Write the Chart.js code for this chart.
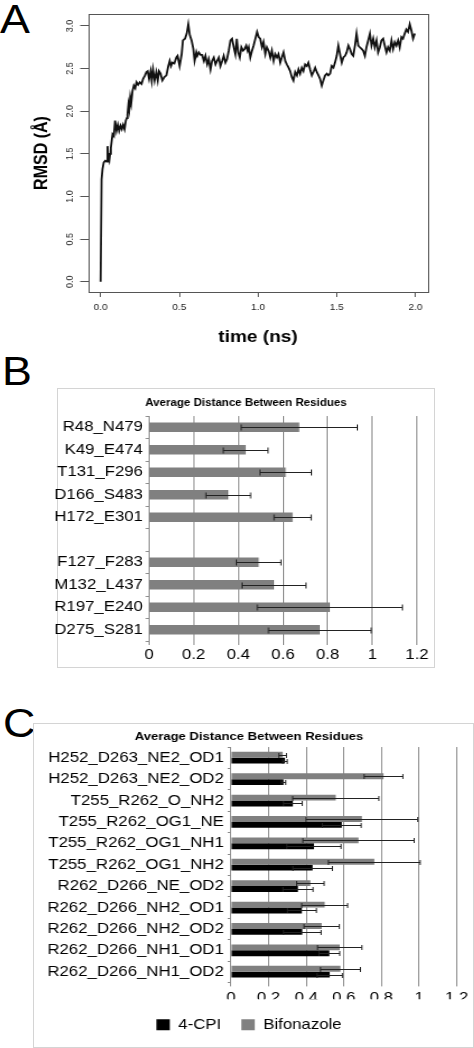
<!DOCTYPE html>
<html><head><meta charset="utf-8">
<script src="https://cdn.jsdelivr.net/npm/chart.js@4/dist/chart.umd.min.js"></script>
<style>
html,body{margin:0;padding:0;background:#fff;width:474px;height:1048px;overflow:hidden;position:relative;font-family:"Liberation Sans",Arial,sans-serif;}
.letter{position:absolute;font-size:40px;line-height:40px;color:#000;transform-origin:0 0;transform:scaleX(1.12);}
.frame{position:absolute;border:1px solid #d4d4d4;box-sizing:border-box;}
canvas{position:absolute;transform-origin:0 0;}
</style></head><body>
<div class="letter" style="left:0;top:-1px">A</div>
<div class="letter" style="left:2px;top:351px">B</div>
<div class="letter" style="left:3px;top:703px">C</div>
<div class="frame" style="left:57px;top:388px;width:378px;height:280px"></div>
<div class="frame" style="left:33px;top:723px;width:441px;height:325px"></div>
<script>
// ---------- Panel A data: RMSD vs time ----------
const rmsdTime = [0.000,0.006,0.012,0.020,0.030,0.038,0.044,0.050,0.055,0.060,0.065,0.071,0.076,0.084,0.092,0.101,0.110,0.118,0.127,0.135,0.143,0.152,0.160,0.166,0.171,0.177,0.182,0.188,0.194,0.203,0.211,0.220,0.228,0.238,0.249,0.260,0.270,0.282,0.291,0.299,0.308,0.318,0.325,0.333,0.343,0.354,0.363,0.371,0.381,0.392,0.405,0.418,0.430,0.439,0.447,0.456,0.468,0.481,0.489,0.502,0.515,0.523,0.536,0.547,0.557,0.567,0.578,0.589,0.597,
0.608,0.614,0.624,0.635,0.645,0.656,0.666,0.677,0.687,0.698,0.708,0.719,0.730,0.740,0.751,0.761,0.772,0.782,0.793,0.803,0.814,0.825,0.835,0.846,0.856,0.865,0.874,0.884,0.894,0.905,0.915,0.925,0.934,0.941,0.951,0.962,0.972,0.983,0.994,1.004,1.014,1.025,1.035,1.046,1.056,1.067,1.078,1.088,1.099,1.109,1.120,1.130,1.141,1.151,1.162,1.173,1.183,1.194,1.204,1.215,1.225,1.236,1.247,1.257,1.267,1.278,1.288,1.299,1.310,1.320,
1.331,1.342,1.352,1.363,1.373,1.384,1.394,1.405,1.415,1.426,1.437,1.447,1.458,1.468,1.479,1.489,1.500,1.510,1.521,1.532,1.542,1.553,1.563,1.574,1.584,1.595,1.605,1.616,1.626,1.637,1.647,1.658,1.668,1.679,1.689,1.700,1.711,1.721,1.732,1.742,1.753,1.763,1.774,1.784,1.795,1.805,1.816,1.826,1.837,1.848,1.858,1.869,1.879,1.890,1.900,1.911,1.921,1.932,1.942,1.953,1.964,1.974,1.985,1.996];
const rmsdValue = [0.00,1.20,1.32,1.40,1.42,1.41,1.59,1.45,1.42,1.50,1.57,1.66,1.73,1.71,1.89,1.77,1.84,1.77,1.83,1.79,1.84,1.79,1.89,1.92,1.96,2.08,2.02,2.16,2.09,2.24,2.30,2.27,2.34,2.31,2.34,2.32,2.38,2.42,2.46,2.47,2.38,2.47,2.36,2.49,2.36,2.46,2.36,2.47,2.44,2.36,2.40,2.42,2.53,2.59,2.53,2.57,2.56,2.63,2.65,2.53,2.67,2.83,2.85,2.91,3.02,2.89,2.83,2.73,2.59,
2.69,2.65,2.69,2.66,2.66,2.59,2.65,2.55,2.61,2.49,2.59,2.63,2.55,2.59,2.63,2.53,2.59,2.65,2.57,2.61,2.71,2.83,2.85,2.75,2.67,2.85,2.69,2.63,2.75,2.71,2.73,2.77,2.71,2.75,2.63,2.71,2.77,2.85,2.93,2.87,2.85,2.75,2.81,2.67,2.75,2.71,2.63,2.71,2.59,2.67,2.63,2.67,2.57,2.63,2.69,2.59,2.55,2.51,2.47,2.40,2.36,2.46,2.42,2.49,2.44,2.51,2.47,2.55,2.53,2.57,
2.49,2.42,2.46,2.51,2.46,2.42,2.38,2.30,2.36,2.42,2.44,2.42,2.44,2.53,2.51,2.57,2.65,2.77,2.67,2.57,2.63,2.65,2.69,2.77,2.73,2.67,2.65,2.77,2.91,2.77,2.75,2.73,2.71,2.65,2.75,2.83,2.91,2.77,2.85,2.75,2.83,2.69,2.75,2.83,2.85,2.77,2.69,2.75,2.71,2.83,2.73,2.81,2.77,2.83,2.75,2.87,2.85,2.91,2.96,2.93,3.02,2.95,2.85,2.91];
const aXTicks = [0, 0.5, 1, 1.5, 2];

// ---------- Panel B data ----------
const bLabels = ['R48_N479','K49_E474','T131_F296','D166_S483','H172_E301','','F127_F283','M132_L437','R197_E240','D275_S281'];
const bValues = [0.673,0.433,0.612,0.355,0.643,null,0.491,0.560,0.810,0.765];
const bErrors = [0.260,0.100,0.115,0.100,0.083,null,0.100,0.143,0.325,0.230];

// ---------- Panel C data ----------
const cLabels = ['H252_D263_NE2_OD1','H252_D263_NE2_OD2','T255_R262_O_NH2','T255_R262_OG1_NE','T255_R262_OG1_NH1','T255_R262_OG1_NH2','R262_D266_NE_OD2','R262_D266_NH2_OD1','R262_D266_NH2_OD2','R262_D266_NH1_OD1','R262_D266_NH1_OD2'];
const cpiValues = [0.287,0.279,0.329,0.589,0.441,0.434,0.356,0.377,0.379,0.523,0.525];
const cpiErrors = [0.012,0.012,0.050,0.103,0.144,0.105,0.080,0.077,0.100,0.055,0.067];
const bifValues = [0.275,0.811,0.557,0.696,0.678,0.762,0.422,0.498,0.482,0.578,0.582];
const bifErrors = [0.020,0.103,0.229,0.297,0.296,0.244,0.073,0.122,0.094,0.118,0.106];
const distTicks = [0, 0.2, 0.4, 0.6, 0.8, 1, 1.2];

// ---------- helpers ----------
const FAM = "'Liberation Sans', Arial, sans-serif";
Chart.defaults.font.family = FAM;
Chart.defaults.color = '#000';
const S = 1.12;
function makeCanvas(cssLeft, cssTop, cssWidth, cssHeight) {
  const cw = Math.round(cssWidth / S);
  const sx = cssWidth / cw;
  const c = document.createElement('canvas');
  c.width = cw; c.height = cssHeight;
  c.style.left = cssLeft + 'px'; c.style.top = cssTop + 'px';
  c.style.width = cw + 'px'; c.style.height = cssHeight + 'px';
  c.style.transform = 'scaleX(' + sx + ')';
  document.body.appendChild(c);
  return {c, cw, h: cssHeight, toX: x => (x - cssLeft) / sx};
}
const fmtDist = v => String(Math.round(v * 10) / 10);
const boxPlugin = {
  id: 'rbox',
  afterDraw(chart, args, opts) {
    const {left, top, right, bottom} = chart.chartArea;
    const ctx = chart.ctx;
    ctx.save(); ctx.strokeStyle = opts.color || '#555'; ctx.lineWidth = 1;
    ctx.strokeRect(Math.round(left) + 0.5, Math.round(top) + 0.5, Math.round(right - left), Math.round(bottom - top));
    ctx.restore();
  }
};
const errorBars = {
  id: 'errorBars',
  afterDatasetsDraw(chart, args, opts) {
    const ctx = chart.ctx, xs = chart.scales.x;
    chart.data.datasets.forEach((ds, di) => {
      if (!ds.errors) return;
      const meta = chart.getDatasetMeta(di);
      meta.data.forEach((bar, i) => {
        const v = ds.data[i], e = ds.errors[i];
        if (v == null || e == null) return;
        const x1 = xs.getPixelForValue(v - e), x2 = xs.getPixelForValue(v + e);
        const y = Math.round(bar.y) + 0.5;
        ctx.save(); ctx.strokeStyle = opts.color; ctx.lineWidth = 1;
        ctx.beginPath();
        ctx.moveTo(x1, y); ctx.lineTo(x2, y);
        ctx.moveTo(x1, y - opts.cap); ctx.lineTo(x1, y + opts.cap);
        ctx.moveTo(x2, y - opts.cap); ctx.lineTo(x2, y + opts.cap);
        ctx.stroke(); ctx.restore();
      });
    });
  }
};
function spacerAxis(w) {
  return {position: 'right', display: true, grid: {display: false}, ticks: {display: false}, border: {display: false}, afterFit: s => { s.width = w; }};
}

// ---------- Panel A ----------
(function(){
  const P = makeCanvas(0, 0, 474, 350);
  new Chart(P.c, {
    type: 'line',
    data: {datasets: [{data: rmsdTime.map((t, i) => ({x: t, y: rmsdValue[i]})), borderColor: '#111', borderWidth: 1.8, pointRadius: 0, tension: 0, fill: false}]},
    options: {
      responsive: false, animation: false, devicePixelRatio: 1,
      layout: {padding: {top: 14, right: P.cw - P.toX(428), left: 0, bottom: 0}},
      plugins: {legend: {display: false}, tooltip: {enabled: false}, rbox: {color: '#555'}},
      scales: {
        x: {type: 'linear', min: -0.08, max: 2.08,
            border: {display: false},
            grid: {drawOnChartArea: false, drawTicks: true, tickLength: 5, color: '#555'},
            afterBuildTicks: s => { s.ticks = aXTicks.map(v => ({value: v})); },
            ticks: {callback: v => Number(v).toFixed(1), font: {size: 9}, color: '#222', padding: 5.6, maxRotation: 0, autoSkip: false},
            title: {display: true, text: 'time (ns)', font: {size: 17, weight: 'bold'}, color: '#000', padding: {top: 0, bottom: 2}},
            afterFit: s => { s.height = 58; }},
        y: {type: 'linear', min: -0.12, max: 3.14,
            border: {display: false},
            grid: {drawOnChartArea: false, drawTicks: true, tickLength: 7, color: '#555'},
            ticks: {stepSize: 0.5, includeBounds: false, callback: v => Number(v).toFixed(1), font: {size: 9}, color: '#222', padding: 2.75, minRotation: 90, maxRotation: 90, crossAlign: 'center'},
            title: {display: true, text: 'RMSD (Å)', font: {size: 16, weight: 'bold'}, color: '#000', padding: {top: 27.9, bottom: 0}},
            afterFit: s => { s.width = P.toX(88); }}
      }
    },
    plugins: [boxPlugin]
  });
})();

// ---------- Panel B ----------
(function(){
  const P = makeCanvas(40, 388, 412, 280);
  new Chart(P.c, {
    type: 'bar',
    data: {labels: bLabels, datasets: [{label: 'Average distance', data: bValues, errors: bErrors, backgroundColor: '#808080', barPercentage: 0.9, categoryPercentage: 0.47}]},
    options: {
      indexAxis: 'y', responsive: false, animation: false, devicePixelRatio: 1,
      layout: {padding: 0},
      plugins: {legend: {display: false}, tooltip: {enabled: false},
        title: {display: true, text: 'Average Distance Between Residues', font: {size: 10.3, weight: 'bold'}, color: '#000', padding: {top: 8.85, bottom: 6.85}},
        errorBars: {color: '#222', cap: 3}},
      scales: {
        x: {min: 0, max: 1.2,
            afterBuildTicks: s => { s.ticks = distTicks.map(v => ({value: v})); },
            grid: {color: '#8c8c8c', tickLength: 4, drawTicks: true},
            border: {display: false},
            ticks: {font: {size: 15}, color: '#000', padding: 1, maxRotation: 0, callback: fmtDist},
            afterFit: s => { s.height = 27; }},
        y: {grid: {drawOnChartArea: false, tickLength: 3, color: '#8c8c8c', offset: true},
            border: {display: true, color: '#8c8c8c'},
            ticks: {font: {size: 15}, color: '#000', padding: 2.4, autoSkip: false},
            afterFit: s => { s.width = P.toX(149); }},
        yR: spacerAxis(P.cw - P.toX(417))
      }
    },
    plugins: [errorBars]
  });
})();

// ---------- Panel C ----------
(function(){
  const P = makeCanvas(25, 723, 448, 324);
  new Chart(P.c, {
    type: 'bar',
    data: {labels: cLabels, datasets: [
      {label: 'Bifonazole', data: bifValues, errors: bifErrors, backgroundColor: '#808080', barPercentage: 1, categoryPercentage: 0.55},
      {label: '4-CPI', data: cpiValues, errors: cpiErrors, backgroundColor: '#000000', barPercentage: 1, categoryPercentage: 0.55}
    ]},
    options: {
      indexAxis: 'y', responsive: false, animation: false, devicePixelRatio: 1,
      layout: {padding: {bottom: 4.8}},
      plugins: {tooltip: {enabled: false},
        legend: {display: true, position: 'bottom', reverse: true,
          labels: {boxWidth: 12, boxHeight: 11, padding: 18, font: {size: 15}, color: '#000'}},
        title: {display: true, text: 'Average Distance Between Residues', font: {size: 11.7, weight: 'bold'}, color: '#000', padding: {top: 7, bottom: 3}},
        errorBars: {color: '#222', cap: 2.5}},
      scales: {
        x: {min: 0, max: 1.2,
            afterBuildTicks: s => { s.ticks = distTicks.map(v => ({value: v})); },
            grid: {color: '#8c8c8c', tickLength: 4, drawTicks: true},
            border: {display: false},
            ticks: {font: {size: 15}, color: '#000', padding: 2.5, maxRotation: 0, callback: fmtDist},
            afterFit: s => { s.height = 16.8; }},
        y: {grid: {drawOnChartArea: false, tickLength: 3, color: '#8c8c8c', offset: true},
            border: {display: true, color: '#8c8c8c'},
            ticks: {font: {size: 15}, color: '#000', padding: 3.4, autoSkip: false},
            afterFit: s => { s.width = P.toX(231); }},
        yR: spacerAxis(P.cw - P.toX(456.7))
      }
    },
    plugins: [errorBars]
  });
})();
</script>
</body></html>
